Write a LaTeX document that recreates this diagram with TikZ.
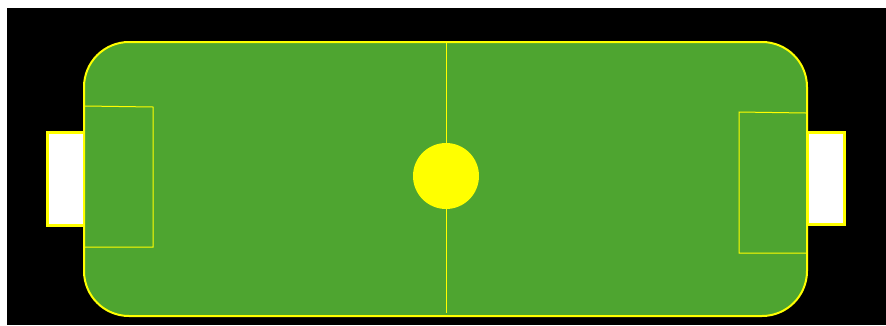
\documentclass[tikz,border=0pt]{standalone}
\definecolor{pitchgreen}{RGB}{78,165,48}
\definecolor{lineyellow}{RGB}{255,255,0}
\begin{document}
\begin{tikzpicture}[x = 1pt, y = -1pt]
        \useasboundingbox (0, 0) rectangle (886, 325);
        \fill[white] (0, 0) rectangle (886, 325);
        \fill[black] (7, 8) rectangle (886, 325);
        % goals
        \draw[line width = 3pt, lineyellow, fill = white] (47, 132) rectangle (84, 225);
        \draw[line width = 3pt, lineyellow, fill = white] (807, 132) rectangle (844, 224);
        % pitch
        \draw[line width = 2pt, lineyellow, fill = pitchgreen, rounded corners = 45pt] (84, 42) rectangle (807, 316);
        \draw[lineyellow, line width = 1pt] (446, 43) -- (446, 313);
        \draw[lineyellow, line width = 1pt] (85, 106) -- (153, 107) -- (153, 247) -- (85, 247);
        \draw[lineyellow, line width = 1pt] (806, 113) -- (739, 112) -- (739, 253) -- (806, 253);
        \node[circle, fill = lineyellow, inner sep = 0pt, minimum size = 66pt] (ball) at (446, 176) {};
    \end{tikzpicture}
\end{document}
